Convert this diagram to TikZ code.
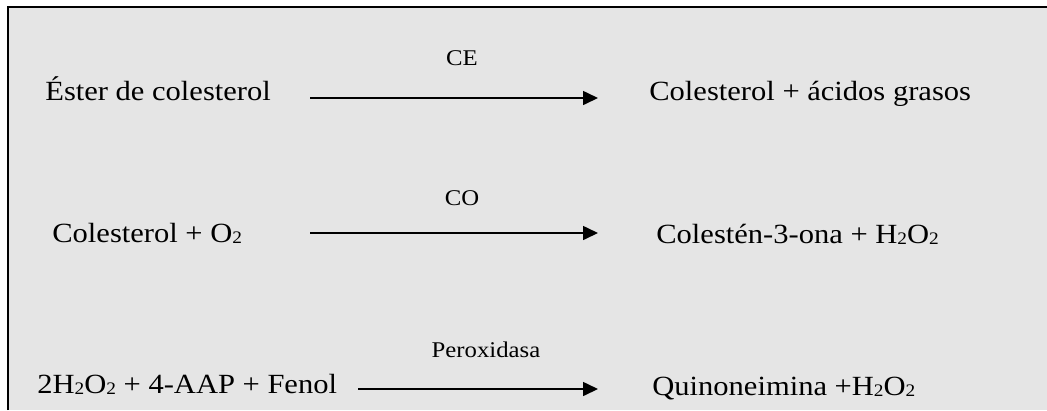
\documentclass[tikz,border=0pt]{standalone}
\usepackage{fontspec}
\setmainfont[FakeStretch=1.1]{Liberation Serif}
\usepackage{tikz}
\usetikzlibrary{arrows.meta}
\definecolor{boxgray}{RGB}{229,229,229}
\newcommand{\dos}{\raisebox{-1pt}{\fontsize{10}{10}\selectfont 2}}

\begin{document}
\begin{tikzpicture}[
    x=0.02cm, y=-0.02cm,
    >={Triangle[length=15*0.02cm, width=14*0.02cm]},
    chem/.style={anchor=base west, inner sep=0pt, font=\fontsize{15.8}{18}\selectfont},
    enz/.style={anchor=base, inner sep=0pt, font=\fontsize{12.8}{15}\selectfont},
    rxn/.style={->, line width=1.6*0.02cm},
]
    \useasboundingbox (0,0) rectangle (1047,410);
    \fill[boxgray] (7.5,6.5) rectangle (1047,410);
    \draw[line width=2*0.02cm] (7.5,410) -- (7.5,6.5) -- (1047,6.5);

    % CE
    \node[chem] (ester) at (45,100) {Éster de colesterol};
    \node[chem] (col1) at (649,100) {Colesterol + ácidos grasos};
    \coordinate (ce-a) at (310,98);
    \coordinate (ce-b) at (598,98);
    \draw[rxn] (ce-a) -- (ce-b);
    \node[enz] (ce) at (462,65) {CE};

    % CO
    \node[chem] (col2) at (52,242) {Colesterol + O\dos};
    \node[chem] (colest) at (656,243) {Colestén-3-ona + H\dos O\dos};
    \coordinate (co-a) at (310,233);
    \coordinate (co-b) at (598,233);
    \draw[rxn] (co-a) -- (co-b);
    \node[enz] (co) at (462,205) {CO};

    % peroxidasa
    \node[chem] (perox) at (37,393) {2H\dos O\dos{} + 4-AAP + Fenol};
    \node[chem] (quin) at (652,395) {Quinoneimina +H\dos O\dos};
    \coordinate (px-a) at (358,389);
    \coordinate (px-b) at (598,389);
    \draw[rxn] (px-a) -- (px-b);
    \node[enz] (pxd) at (486,357) {Peroxidasa};
\end{tikzpicture}
\end{document}
